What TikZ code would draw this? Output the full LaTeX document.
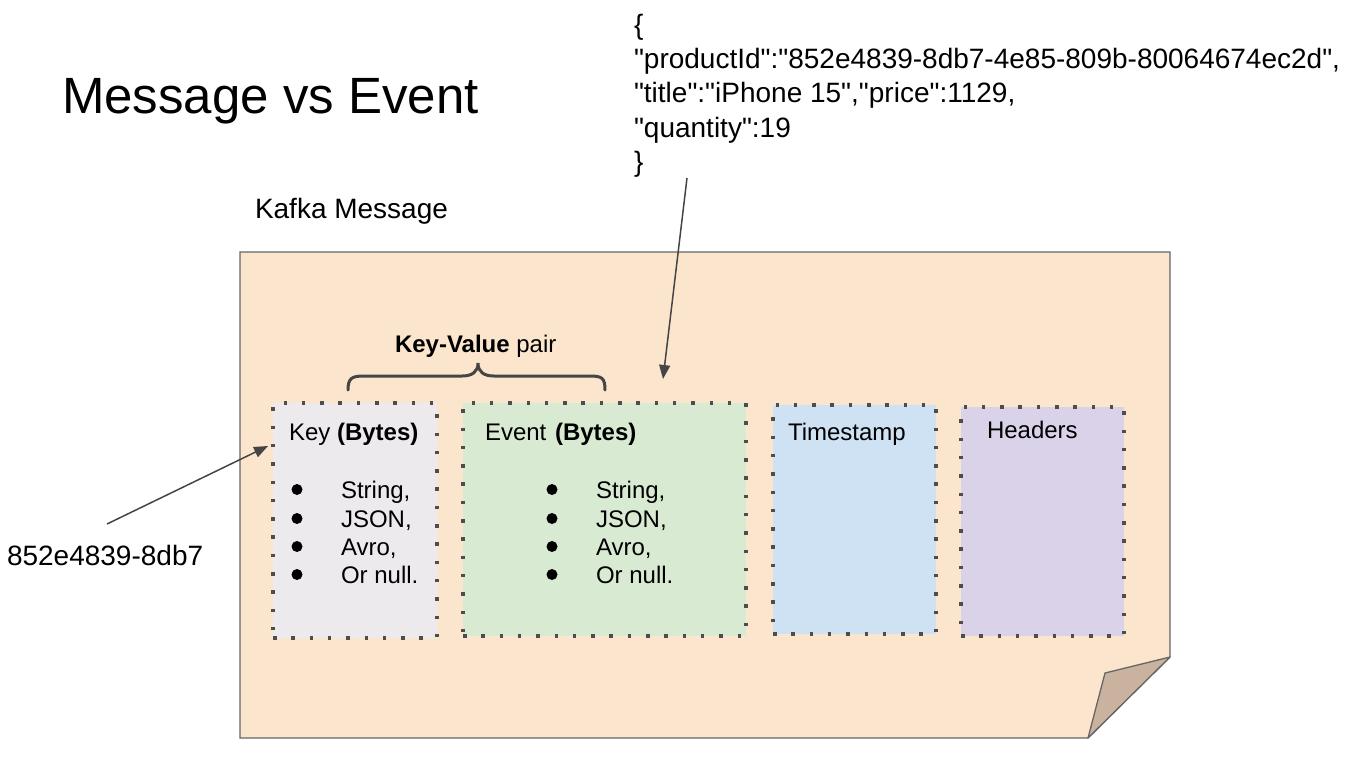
\documentclass[tikz,border=0pt]{standalone}
\usepackage{fontspec}
\setmainfont{Liberation Sans}[Ligatures=TeXOff]
\usetikzlibrary{arrows.meta}
\definecolor{paperfill}{HTML}{FCE5CD}
\definecolor{foldfill}{HTML}{C9B39E}
\definecolor{edgegray}{HTML}{666666}
\definecolor{dotgray}{HTML}{4D4D4D}
\definecolor{keyfill}{HTML}{EDEAEE}
\definecolor{eventfill}{HTML}{D9EAD3}
\definecolor{timefill}{HTML}{CFE2F3}
\definecolor{headfill}{HTML}{D9D2E9}
\definecolor{arrowgray}{HTML}{454545}
\tikzset{
  txt/.style={anchor=base west, inner sep=0pt, outer sep=0pt, text=black},
  fbig/.style={font=\fontsize{51}{60}\selectfont},
  fmid/.style={font=\fontsize{28}{34}\selectfont},
  fsmall/.style={font=\fontsize{24}{28}\selectfont},
  fieldbox/.style={anchor=north west, inner sep=0pt, outer sep=0pt, draw=dotgray, line width=3.5pt,
    dash pattern=on 3.5pt off 14.8pt},
  pointer/.style={draw=arrowgray, line width=1.5pt,
    -{Triangle[length=14pt, width=11pt]}},
  bulletdot/.style={fill=black, circle, inner sep=0pt, minimum size=11pt},
}
\begin{document}
\begin{tikzpicture}[x=1pt, y=-1pt]
\useasboundingbox (0,0) rectangle (1370,756);

% title and labels
\node[txt, fbig] (title) at (62,113) {Message vs Event};
\node[txt, fmid] (kafka) at (255,218) {Kafka Message};
\node[txt, fmid] (keyval) at (7,565) {852e4839-8db7};

% JSON
\node[txt, fmid] (j0) at (634,34) {\{};
\node[txt, fmid] (j1) at (634,68) {"productId":"852e4839-8db7-4e85-809b-80064674ec2d",};
\node[txt, fmid] (j2) at (634,102) {"title":"iPhone 15","price":1129,};
\node[txt, fmid] (j3) at (634,137) {"quantity":19};
\node[txt, fmid] (j4) at (634,171) {\}};

% paper
\draw[fill=paperfill, draw=edgegray, line width=1.3pt]
  (240,252) -- (1170,252) -- (1170,657) -- (1088,738) -- (240,738) -- cycle;
\draw[fill=foldfill, draw=edgegray, line width=1.3pt, line join=round]
  (1170,657) -- (1105,673) -- (1088,738) -- cycle;

% field boxes
\node[fieldbox, fill=keyfill, minimum width=164pt, minimum height=235pt] (keybox) at (273,403) {};
\node[fieldbox, fill=eventfill, minimum width=283pt, minimum height=233pt] (eventbox) at (463,403) {};
\node[fieldbox, fill=timefill, minimum width=163pt, minimum height=229pt] (timebox) at (773,405) {};
\node[fieldbox, fill=headfill, minimum width=163pt, minimum height=229pt] (headbox) at (961,407) {};

% box texts
\node[txt, fsmall] (keyt) at (289,440) {Key \textbf{(Bytes)}};
\node[txt, fsmall] (evt) at (485,440) {Event\hspace{2pt} \textbf{(Bytes)}};
\node[txt, fsmall] (tst) at (788,440) {Timestamp};
\node[txt, fsmall] (hdt) at (987,438) {Headers};

\foreach \i/\w/\y in {1/{String,}/498, 2/{JSON,}/527, 3/{Avro,}/555, 4/{Or null.}/583} {
  \node[bulletdot] (kb\i) at (297,\y-8.5) {};
  \node[txt, fsmall] (kt\i) at (341,\y) {\w};
  \node[bulletdot] (eb\i) at (552,\y-8.5) {};
  \node[txt, fsmall] (et\i) at (596,\y) {\w};
}

% brace and label
\node[txt, fsmall] (kvlabel) at (395,352) {\textbf{Key-Value} pair};
\draw[draw=dotgray!90!black, line width=3pt, line cap=round]
  (348,390) .. controls (348,378) and (352,376) .. (364,376) -- (462,376)
  .. controls (472,376) and (478,372) .. (478,363)
  .. controls (478,372) and (484,376) .. (494,376) -- (590,376)
  .. controls (602,376) and (605,378) .. (605,390);

% pointers
\coordinate (jsontail) at (687,178);
\coordinate (jsonhead) at (663,379);
\coordinate (keytail) at (107,524);
\coordinate (keyhead) at (268,446);
\draw[pointer] (jsontail) -- (jsonhead);
\draw[pointer] (keytail) -- (keyhead);
\end{tikzpicture}
\end{document}
